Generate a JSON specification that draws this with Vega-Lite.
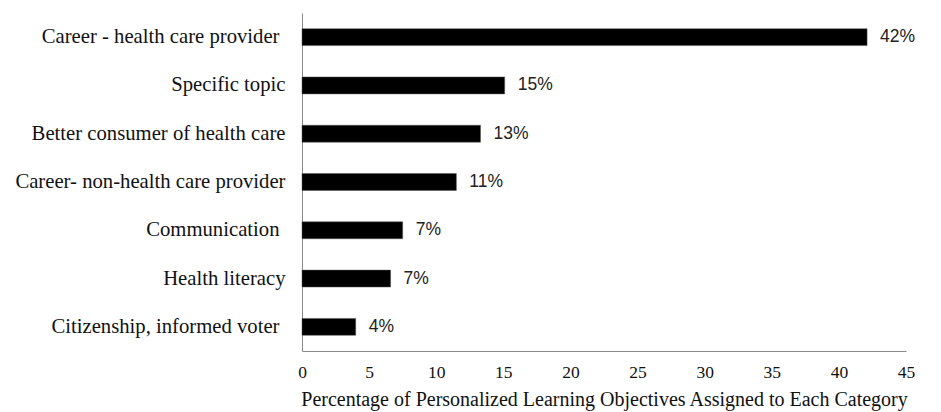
{
  "$schema": "https://vega.github.io/schema/vega-lite/v6.json",
  "autosize": "none",
  "width": 604,
  "height": 338,
  "padding": {"left": 302, "top": 13, "right": 35, "bottom": 61},
  "background": "white",
  "config": {"view": {"stroke": null}},
  "data": {
    "values": [
      {"category": "Career - health care provider", "pct": 42.1, "label": "42%"},
      {"category": "Specific topic", "pct": 15.1, "label": "15%"},
      {"category": "Better consumer of health care", "pct": 13.3, "label": "13%"},
      {"category": "Career- non-health care provider", "pct": 11.5, "label": "11%"},
      {"category": "Communication", "pct": 7.5, "label": "7%"},
      {"category": "Health literacy", "pct": 6.6, "label": "7%"},
      {"category": "Citizenship, informed voter", "pct": 4.0, "label": "4%"}
    ]
  },
  "encoding": {
    "y": {
      "field": "category",
      "type": "nominal",
      "sort": null,
      "scale": {"paddingInner": 0.65, "paddingOuter": 0.325},
      "axis": {
        "title": null,
        "ticks": false,
        "labelPadding": {
          "condition": {"test": "indexof(['Career - health care provider', 'Communication', 'Citizenship, informed voter'], datum.value) >= 0", "value": 23},
          "value": 17
        },
        "labelFont": "Liberation Serif",
        "labelFontSize": 20.7,
        "labelColor": "#111",
        "labelLimit": 400,
        "domainColor": "#8a8a8a",
        "domainWidth": 1
      }
    },
    "x": {
      "field": "pct",
      "type": "quantitative",
      "scale": {"domain": [0, 45], "nice": false},
      "axis": {
        "values": [0, 5, 10, 15, 20, 25, 30, 35, 40, 45],
        "grid": false,
        "ticks": false,
        "labelPadding": 12,
        "labelFont": "Liberation Serif",
        "labelFontSize": 17.5,
        "labelColor": "#111",
        "labelFlush": false,
        "domainColor": "#8a8a8a",
        "domainWidth": 1,
        "title": "Percentage of Personalized Learning Objectives Assigned to Each Category",
        "titleFont": "Liberation Serif",
        "titleFontSize": 20,
        "titleFontWeight": "normal",
        "titleColor": "#111",
        "titlePadding": 9
      }
    }
  },
  "layer": [
    {"mark": {"type": "bar", "color": "#000", "stroke": "#555", "strokeWidth": 0.5}},
    {
      "mark": {"type": "text", "align": "left", "baseline": "middle", "dx": 13, "font": "Liberation Sans", "fontSize": 17.5, "color": "#222"},
      "encoding": {"text": {"field": "label"}}
    }
  ]
}
